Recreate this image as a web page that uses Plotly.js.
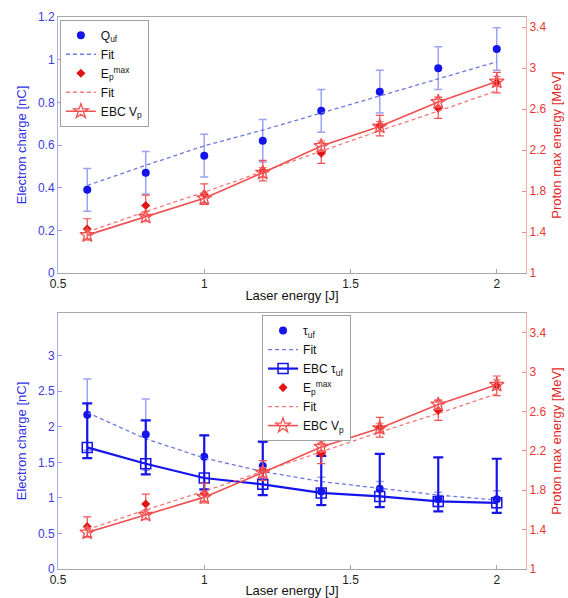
<!DOCTYPE html>
<html>
<head>
<meta charset="utf-8">
<script src="https://cdn.plot.ly/plotly-3.0.1.min.js"></script>
<style>html,body{margin:0;padding:0;background:#fff}#chart{width:568px;height:598px}</style>
</head>
<body>
<div id="chart"></div>
<script>
// Laser energy [J]
const energy = [0.6, 0.8, 1.0, 1.2, 1.4, 1.6, 1.8, 2.0];
// Top panel: electron charge Q_uf [nC]
const qUf = [0.39, 0.47, 0.55, 0.62, 0.76, 0.85, 0.96, 1.05];
const qUfErr = [0.10, 0.10, 0.10, 0.10, 0.10, 0.10, 0.10, 0.10];
const qUfFit = [0.41, 0.505, 0.596, 0.67, 0.75, 0.83, 0.91, 0.99];
// Proton max energy [MeV] (both panels)
const epMax = [1.43, 1.66, 1.77, 2.00, 2.17, 2.44, 2.61, 2.86];
const epMaxErr = [0.10, 0.10, 0.10, 0.10, 0.10, 0.10, 0.10, 0.10];
const epFit = [1.40, 1.60, 1.79, 1.99, 2.19, 2.39, 2.58, 2.78];
const ebcVp = [1.37, 1.55, 1.73, 1.98, 2.24, 2.43, 2.67, 2.87];
const ebcVpErr = [0.05, 0.05, 0.05, 0.05, 0.05, 0.05, 0.05, 0.05];
// Bottom panel: tau_uf
const tauUf = [2.17, 1.89, 1.58, 1.45, 1.09, 1.13, 0.98, 0.98];
const tauUfErr = [0.50, 0.50, 0.30, 0.33, 0.20, 0.10, 0.10, 0.12];
const tauFit = [2.20, 1.83, 1.56, 1.37, 1.23, 1.13, 1.04, 0.97];
const ebcTau = [1.71, 1.48, 1.28, 1.19, 1.07, 1.02, 0.95, 0.93];
const ebcTauErrPlus = [0.62, 0.61, 0.60, 0.60, 0.52, 0.60, 0.62, 0.62];
const ebcTauErrMinus = [0.15, 0.15, 0.16, 0.15, 0.17, 0.15, 0.14, 0.14];
// Tick labels
const xTicks = [0.5, 1, 1.5, 2];
const xTickText = ['0.5', '1', '1.5', '2'];
const qTicks = [0, 0.2, 0.4, 0.6, 0.8, 1, 1.2];
const qTickText = ['0', '0.2', '0.4', '0.6', '0.8', '1', '1.2'];
const tauTicks = [0, 0.5, 1, 1.5, 2, 2.5, 3];
const tauTickText = ['0', '0.5', '1', '1.5', '2', '2.5', '3'];
const eTicks = [1, 1.4, 1.8, 2.2, 2.6, 3, 3.4];
const eTickText = ['1', '1.4', '1.8', '2.2', '2.6', '3', '3.4'];

const BLUE = 'rgb(20,20,235)';
const LBLUE = 'rgba(90,100,235,0.6)';
const FITBLUE = 'rgb(110,120,225)';
const RED = 'rgb(225,20,20)';
const LRED = 'rgb(245,120,120)';
const SRED = 'rgb(240,80,80)';
const FONT = 'Liberation Sans, Arial, sans-serif';

function panel(xa, yl, yr, lg, isTop) {
  const t = [];
  if (isTop) {
    t.push({x: energy, y: qUf, xaxis: xa, yaxis: yl, legend: lg, name: 'Q<sub>uf</sub>', mode: 'markers',
      marker: {color: BLUE, size: 8, symbol: 'circle'},
      error_y: {type: 'data', array: qUfErr, color: LBLUE, thickness: 1.5, width: 4}});
    t.push({x: energy, y: qUfFit, xaxis: xa, yaxis: yl, legend: lg, name: 'Fit', mode: 'lines',
      line: {color: FITBLUE, width: 1.3, dash: '4px,3px'}});
  } else {
    t.push({x: energy, y: tauUf, xaxis: xa, yaxis: yl, legend: lg, name: '\u03c4<sub>uf</sub>', mode: 'markers',
      marker: {color: BLUE, size: 8, symbol: 'circle'},
      error_y: {type: 'data', array: tauUfErr, color: LBLUE, thickness: 1.5, width: 4}});
    t.push({x: energy, y: tauFit, xaxis: xa, yaxis: yl, legend: lg, name: 'Fit', mode: 'lines',
      line: {color: FITBLUE, width: 1.3, dash: '4px,3px'}});
    t.push({x: energy, y: ebcTau, xaxis: xa, yaxis: yl, legend: lg, name: 'EBC \u03c4<sub>uf</sub>', mode: 'lines+markers',
      line: {color: BLUE, width: 2.2},
      marker: {color: BLUE, size: 10, symbol: 'square-open', line: {width: 1.5}},
      error_y: {type: 'data', symmetric: false, array: ebcTauErrPlus, arrayminus: ebcTauErrMinus, color: BLUE, thickness: 2.2, width: 5}});
  }
  t.push({x: energy, y: epMax, xaxis: xa, yaxis: yr, legend: lg, name: 'E<sub>p</sub><sup>max</sup>', mode: 'markers',
    marker: {color: RED, size: 7, symbol: 'diamond'},
    error_y: {type: 'data', array: epMaxErr, color: SRED, thickness: 1.2, width: 4}});
  t.push({x: energy, y: epFit, xaxis: xa, yaxis: yr, legend: lg, name: 'Fit', mode: 'lines',
    line: {color: LRED, width: 1.3, dash: '4px,3px'}});
  t.push({x: energy, y: ebcVp, xaxis: xa, yaxis: yr, legend: lg, name: 'EBC V<sub>p</sub>', mode: 'lines+markers',
    line: {color: SRED, width: 1.6},
    marker: {color: SRED, size: 11, symbol: 'star-open', line: {width: 1.3}},
    error_y: {type: 'data', array: ebcVpErr, color: LRED, thickness: 1, width: 4}});
  return t;
}

const data = panel('x', 'y', 'y2', 'legend', true).concat(panel('x2', 'y3', 'y4', 'legend2', false));

function xAxis(anchor) {
  return {anchor: anchor, domain: [0, 1], range: [0.5, 2.1], tickvals: xTicks, ticktext: xTickText,
    showline: true, linecolor: '#a8a8a8', linewidth: 1, mirror: true, ticks: 'inside', ticklen: 4, tickcolor: '#a8a8a8',
    showgrid: false, zeroline: false, tickfont: {family: FONT, size: 12, color: '#222'},
    title: {text: 'Laser energy [J]', font: {family: FONT, size: 13, color: '#111'}, standoff: 0}};
}
function yLeft(anchor, domain, range, tv, tt) {
  return {anchor: anchor, domain: domain, range: range, tickvals: tv, ticktext: tt,
    showline: true, linecolor: 'rgb(170,170,245)', linewidth: 1, ticks: 'inside', ticklen: 4, tickcolor: 'rgb(150,150,240)',
    showgrid: false, zeroline: false, tickfont: {family: FONT, size: 12, color: 'rgb(60,60,225)'},
    title: {text: 'Electron charge [nC]', font: {family: FONT, size: 13, color: 'rgb(50,50,225)'}, standoff: 8}};
}
function yRight(anchor, over, range) {
  return {anchor: anchor, overlaying: over, side: 'right', range: range, tickvals: eTicks, ticktext: eTickText,
    showline: true, linecolor: 'rgb(245,170,170)', linewidth: 1, ticks: 'inside', ticklen: 4, tickcolor: 'rgb(240,140,140)',
    showgrid: false, zeroline: false, tickfont: {family: FONT, size: 12, color: 'rgb(230,55,55)'},
    title: {text: 'Proton max energy [MeV]', font: {family: FONT, size: 13, color: 'rgb(225,40,40)'}, standoff: 6}};
}

const legendBase = {bordercolor: '#a0a0a0', borderwidth: 1, bgcolor: 'rgba(255,255,255,1)',
  font: {family: FONT, size: 12, color: '#111'}, tracegroupgap: 0, itemwidth: 30, xanchor: 'left', yanchor: 'top'};

const layout = {
  width: 568, height: 598,
  margin: {l: 58, r: 42, t: 17, b: 29},
  paper_bgcolor: '#fff', plot_bgcolor: '#fff',
  showlegend: true,
  font: {family: FONT},
  xaxis: xAxis('y'),
  yaxis: yLeft('x', [0.5362, 1], [0, 1.2], qTicks, qTickText),
  yaxis2: yRight('x', 'y', [1, 3.5]),
  xaxis2: xAxis('y3'),
  yaxis3: yLeft('x2', [0, 0.4638], [0, 3.6], tauTicks, tauTickText),
  yaxis4: yRight('x2', 'y3', [1, 3.6]),
  legend: Object.assign({}, legendBase, {x: 0.004, y: 0.995}),
  legend2: Object.assign({}, legendBase, {x: 0.436, y: 0.46})
};

Plotly.newPlot('chart', data, layout, {staticPlot: true, displayModeBar: false});
</script>
</body>
</html>
